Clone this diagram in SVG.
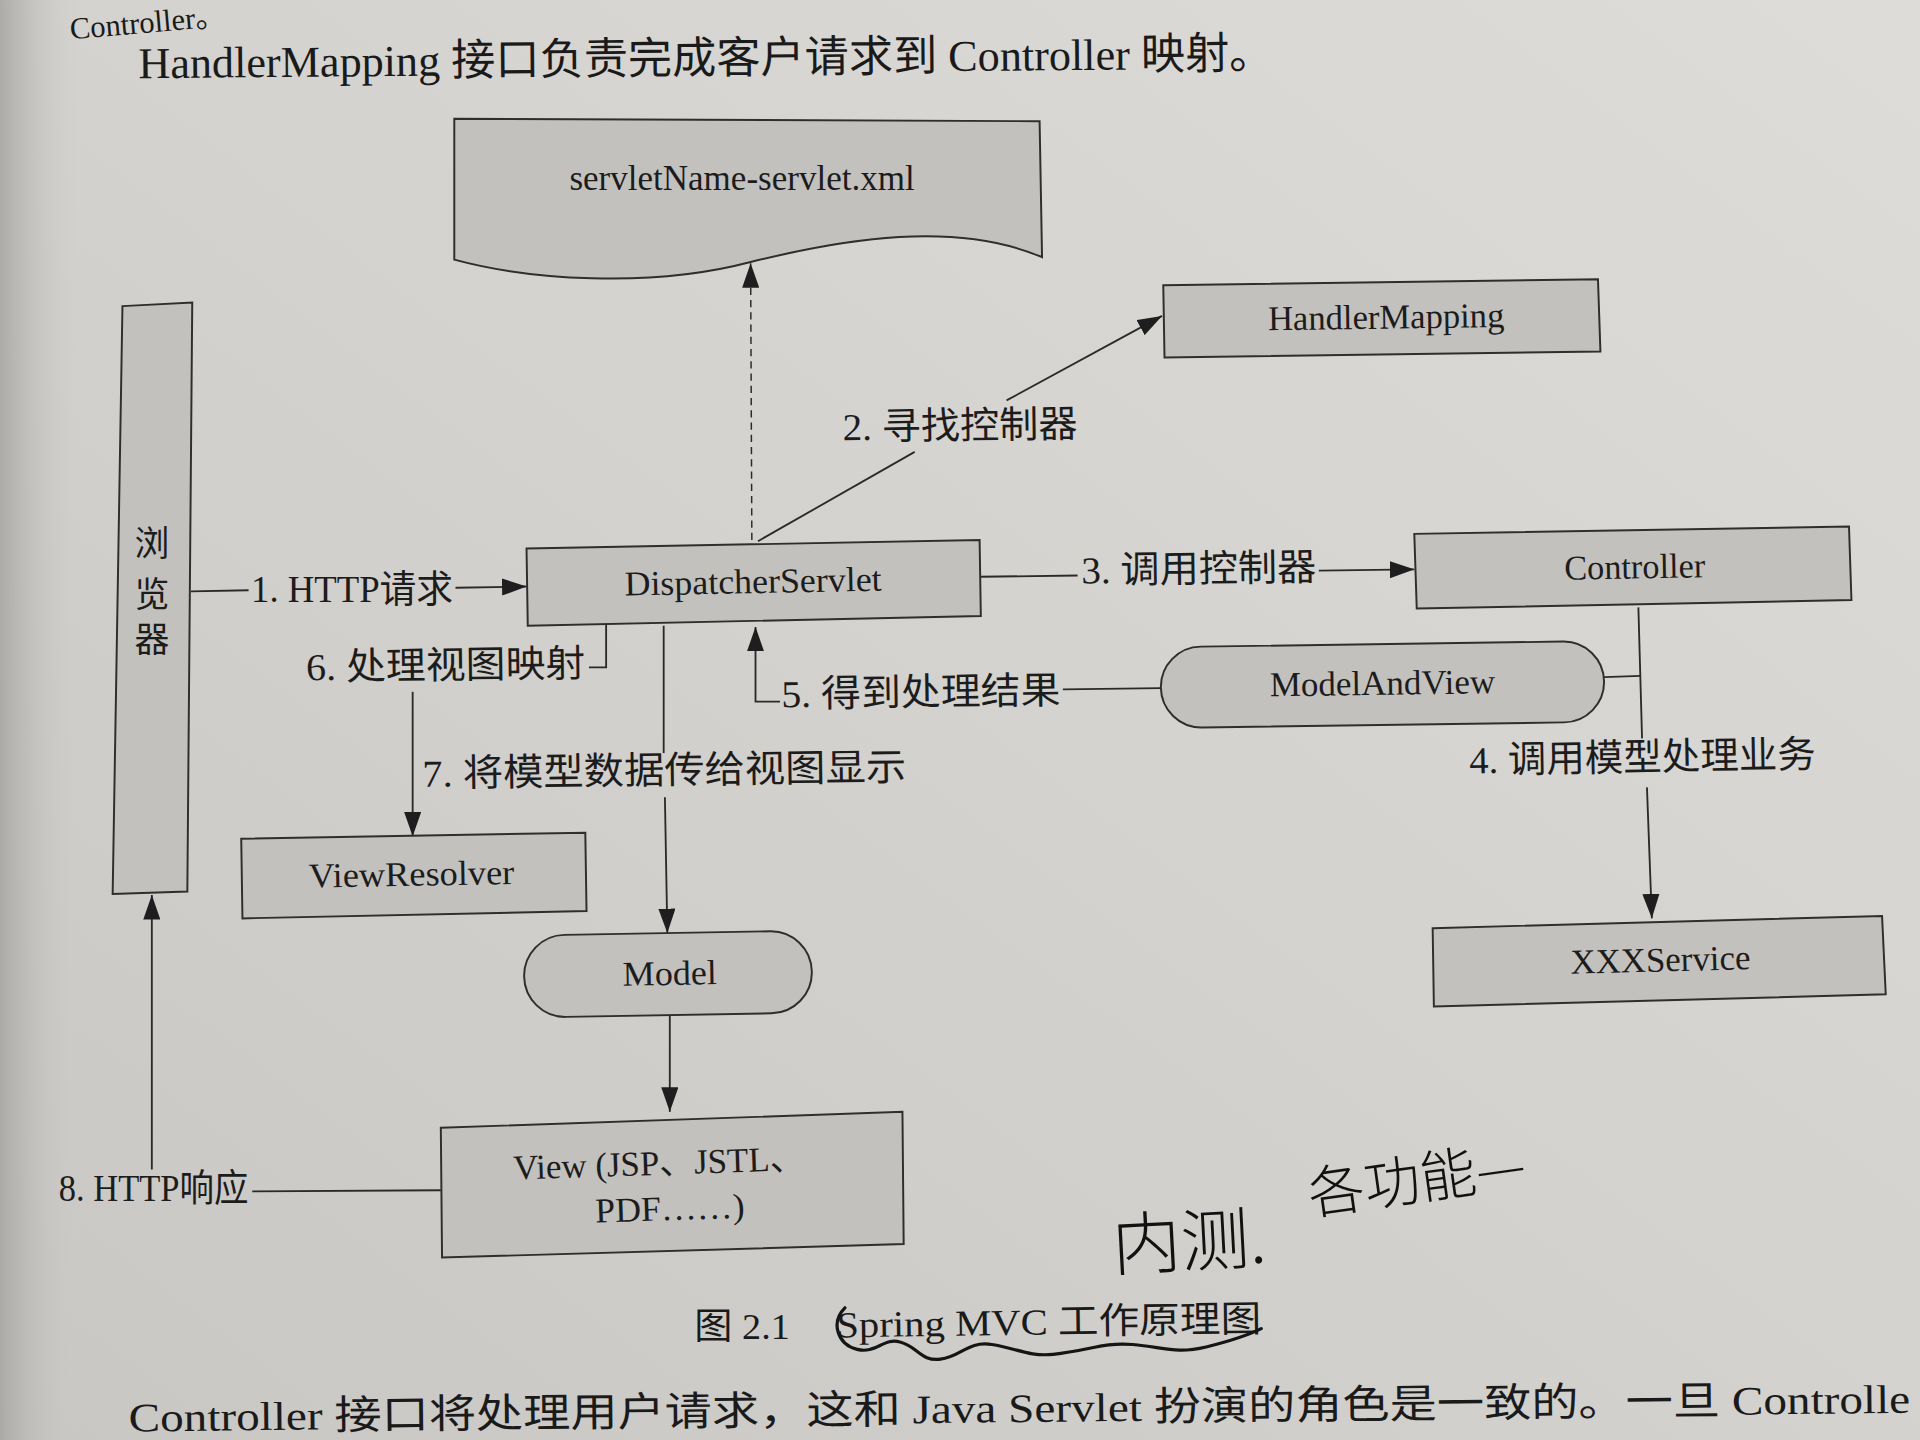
<svg xmlns="http://www.w3.org/2000/svg" width="1920" height="1440" viewBox="0 0 1920 1440">
<defs>
<linearGradient id="paper" x1="1" y1="0" x2="0" y2="1">
<stop offset="0" stop-color="#dedcd9"/>
<stop offset="0.5" stop-color="#d4d2cf"/>
<stop offset="1" stop-color="#c9c7c4"/>
</linearGradient>
<linearGradient id="edge" x1="0" y1="0" x2="1" y2="0">
<stop offset="0" stop-color="#a9a7a4" stop-opacity="0.9"/>
<stop offset="1" stop-color="#d0cecb" stop-opacity="0"/>
</linearGradient>
<marker id="ah" viewBox="0 0 20 14" refX="20" refY="7" markerWidth="20" markerHeight="14" markerUnits="userSpaceOnUse" orient="auto">
<path d="M0,0 L20,7 L0,14 z" fill="#1e1e1e"/>
</marker>
<style>
.box{fill:#c3c1be;stroke:#2e2e2e;stroke-width:1.6}
.ln{fill:none;stroke:#2a2a2a;stroke-width:1.5}
.dash{stroke-dasharray:6 4;stroke-width:1.2}
.arr{marker-end:url(#ah)}
.node{font-family:"Liberation Serif","Noto Sans CJK SC",serif;font-size:28.5px;fill:#1c1c1c;dominant-baseline:central}
.lbl{font-family:"Liberation Serif","Noto Sans CJK SC",serif;font-size:31px;fill:#1c1c1c;dominant-baseline:central}
.page{font-family:"Liberation Serif","Noto Sans CJK SC",serif;fill:#1a1a1a;dominant-baseline:central}
.hand{font-family:"Noto Sans CJK SC",sans-serif;fill:#111;dominant-baseline:central}
</style>
</defs>
<rect width="1920" height="1440" fill="url(#paper)"/>
<rect width="80" height="1440" fill="url(#edge)"/>
<g transform="scale(1.2245)">
<!-- page text -->
<text class="page" x="57" y="24" font-size="25" transform="rotate(-5 57 24)">Controller。</text>
<text class="page" x="113" y="52" font-size="36" textLength="927" lengthAdjust="spacingAndGlyphs" transform="rotate(-0.5 113 52)">HandlerMapping 接口负责完成客户请求到 Controller 映射。</text>

<!-- connectors -->
<g id="connectors">
<path class="ln" d="M156,483 L203,482"/>
<path class="ln arr" d="M372,480 L430,479"/>
<path class="ln dash arr" d="M614,441 L613,215"/>
<path class="ln" d="M619,442 L747,369"/>
<path class="ln arr" d="M822,327 L949,258"/>
<path class="ln" d="M801,471 L880,470"/>
<path class="ln arr" d="M1077,466 L1155,465"/>
<path class="ln" d="M1338,496 L1341,603"/>
<path class="ln arr" d="M1345,643 L1349,750"/>
<path class="ln" d="M1310,553 L1340,552"/>
<path class="ln" d="M948,562 L868,563"/>
<path class="ln arr" d="M637,573 L617,573 L617,512"/>
<path class="ln" d="M495,510 L495,545 L481,545"/>
<path class="ln arr" d="M337,565 L337,683"/>
<path class="ln" d="M542,511 L542,615"/>
<path class="ln arr" d="M543,651 L545,762"/>
<path class="ln arr" d="M547,829 L547,908"/>
<path class="ln" d="M360,972 L206,973"/>
<path class="ln arr" d="M124,955 L124,731"/>
<text class="lbl" x="205" y="481" textLength="165" lengthAdjust="spacingAndGlyphs">1. HTTP请求</text>
<text class="lbl" x="688" y="349" textLength="192" lengthAdjust="spacingAndGlyphs" transform="rotate(-0.8 688 349)">2. 寻找控制器</text>
<text class="lbl" x="883" y="466" textLength="192" lengthAdjust="spacingAndGlyphs" transform="rotate(-0.8 883 466)">3. 调用控制器</text>
<text class="lbl" x="1200" y="621" textLength="283" lengthAdjust="spacingAndGlyphs" transform="rotate(-1 1200 621)">4. 调用模型处理业务</text>
<text class="lbl" x="638" y="567" textLength="228" lengthAdjust="spacingAndGlyphs" transform="rotate(-0.8 638 567)">5. 得到处理结果</text>
<text class="lbl" x="250" y="545" textLength="228" lengthAdjust="spacingAndGlyphs" transform="rotate(-0.8 250 545)">6. 处理视图映射</text>
<text class="lbl" x="345" y="632" textLength="395" lengthAdjust="spacingAndGlyphs" transform="rotate(-0.8 345 632)">7. 将模型数据传给视图显示</text>
<text class="lbl" x="48" y="970" textLength="155" lengthAdjust="spacingAndGlyphs">8. HTTP响应</text>
</g>

<!-- nodes -->
<g id="browser">
<polygon class="box" points="100,250 157,247 153,728 92,730"/>
<text class="node" x="124" y="445" text-anchor="middle" font-size="27">浏</text>
<text class="node" x="124" y="486" text-anchor="middle" font-size="27">览</text>
<text class="node" x="124" y="523" text-anchor="middle" font-size="27">器</text>
</g>
<g id="servlet-xml">
<path class="box" d="M371,97 L849,99 L851,210 C780,180 690,195 613,214 C530,236 430,228 371,212 Z"/>
<text class="node" x="606" y="146" text-anchor="middle" textLength="282" lengthAdjust="spacingAndGlyphs">servletName-servlet.xml</text>
</g>
<g id="dispatcher">
<polygon class="box" points="430,448 800,441 801,503 431,511"/>
<text class="node" x="615" y="475" text-anchor="middle" textLength="210" lengthAdjust="spacingAndGlyphs" transform="rotate(-1.1 615 475)">DispatcherServlet</text>
</g>
<g id="handler-mapping">
<polygon class="box" points="950,233 1305,228 1307,287 951,292"/>
<text class="node" x="1132" y="259" text-anchor="middle" textLength="193" lengthAdjust="spacingAndGlyphs" transform="rotate(-0.8 1132 259)">HandlerMapping</text>
</g>
<g id="controller">
<polygon class="box" points="1155,436 1510,430 1512,490 1157,497"/>
<text class="node" x="1335" y="463" text-anchor="middle" textLength="115" lengthAdjust="spacingAndGlyphs" transform="rotate(-1 1335 463)">Controller</text>
</g>
<g id="model-and-view">
<rect class="box" x="948" y="526" width="362" height="66" rx="33" transform="rotate(-0.8 1129 559)"/>
<text class="node" x="1129" y="558" text-anchor="middle" textLength="184" lengthAdjust="spacingAndGlyphs" transform="rotate(-0.8 1129 558)">ModelAndView</text>
</g>
<g id="view-resolver">
<polygon class="box" points="197,685 478,680 479,744 198,750"/>
<text class="node" x="336" y="714" text-anchor="middle" textLength="168" lengthAdjust="spacingAndGlyphs" transform="rotate(-1 336 714)">ViewResolver</text>
</g>
<g id="model">
<rect class="box" x="428" y="762" width="235" height="67" rx="33.5" transform="rotate(-1 545 795)"/>
<text class="node" x="547" y="795" text-anchor="middle" textLength="77" lengthAdjust="spacingAndGlyphs" transform="rotate(-1 547 795)">Model</text>
</g>
<g id="view">
<polygon class="box" points="360,921 737,908 738,1016 361,1027"/>
<text class="node" x="538" y="950" text-anchor="middle" textLength="238" lengthAdjust="spacingAndGlyphs" transform="rotate(-1.9 538 950)">View (JSP、JSTL、</text>
<text class="node" x="547" y="987" text-anchor="middle" textLength="122" lengthAdjust="spacingAndGlyphs" transform="rotate(-1.9 547 987)">PDF……)</text>
</g>
<g id="xxx-service">
<polygon class="box" points="1170,758 1537,748 1540,812 1171,822"/>
<text class="node" x="1356" y="784" text-anchor="middle" textLength="147" lengthAdjust="spacingAndGlyphs" transform="rotate(-1.5 1356 784)">XXXService</text>
</g>

<!-- caption and page -->
<text class="page" x="567" y="1083" font-size="30" textLength="78" lengthAdjust="spacingAndGlyphs">图 2.1</text>
<text class="page" x="683" y="1082" font-size="30" textLength="347" lengthAdjust="spacingAndGlyphs" transform="rotate(-0.8 683 1082)">Spring MVC 工作原理图</text>
<text class="page" x="105" y="1158" font-size="33" textLength="1455" lengthAdjust="spacingAndGlyphs" transform="rotate(-0.6 105 1158)">Controller 接口将处理用户请求，这和 Java Servlet 扮演的角色是一致的。一旦 Controlle</text>

<!-- handwriting -->
<text class="hand" x="908" y="1013" font-size="56" font-weight="300" transform="rotate(-3 908 1013)">内测.</text>
<text class="hand" x="1068" y="972" font-size="46" font-weight="300" transform="rotate(-8 1068 972)">各功能—</text>
<path d="M690,1068 C678,1080 684,1098 700,1102 C715,1106 722,1092 735,1096 C750,1100 752,1112 768,1110 C785,1108 790,1095 810,1098 C830,1101 840,1108 860,1106 C890,1103 900,1096 925,1098 C950,1100 960,1106 985,1100 C1005,1095 1020,1090 1030,1085" fill="none" stroke="#151515" stroke-width="2.6" stroke-linecap="round"/>
</g>
</svg>
